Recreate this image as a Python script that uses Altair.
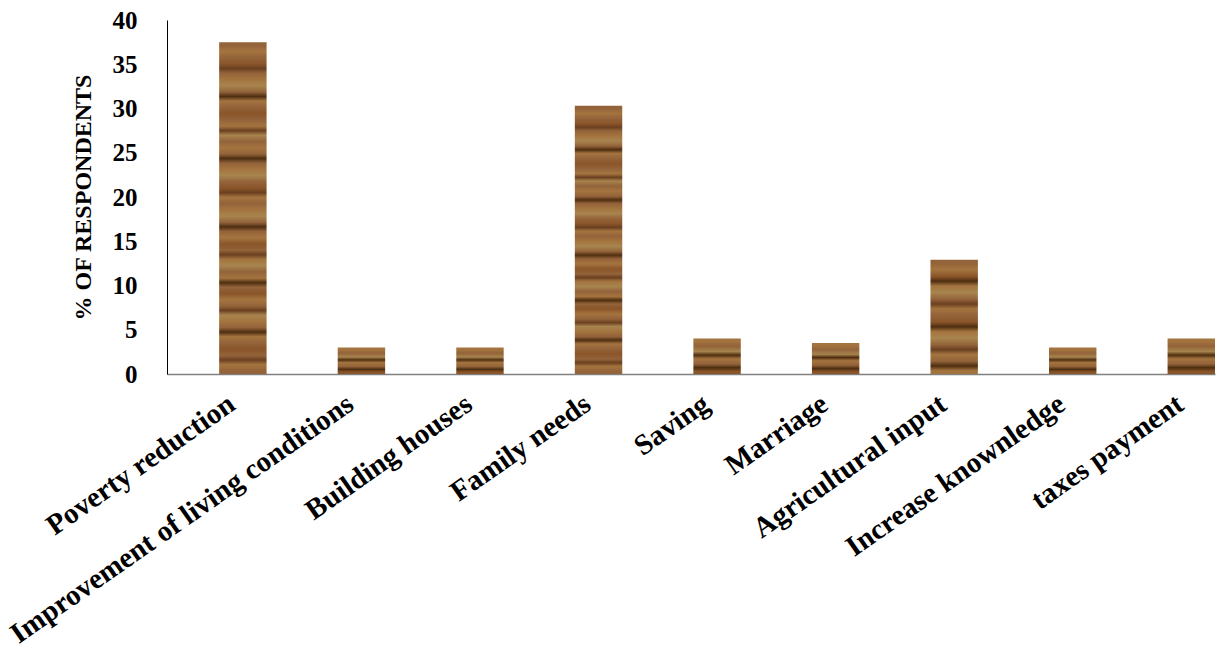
import altair as alt
import pandas as pd

# Reasons given for using the money, share of respondents (%)
categories = [
    "Poverty reduction",
    "Improvement  of living conditions",
    "Building houses",
    "Family needs",
    "Saving",
    "Marriage",
    "Agricultural input",
    "Increase knownledge",
    "taxes payment",
]
percent = [37.5, 3.0, 3.0, 30.3, 4.0, 3.5, 12.9, 3.0, 4.0]

df = pd.DataFrame({"reason": categories, "pct": percent})

FONT = "Liberation Serif"

# Wood-grain tones: light, mid, reddish, yellowish, dark, very dark
L, M, R, Y, D, K = "#a4743f", "#93633a", "#8a5529", "#a8844e", "#6a4020", "#4e2e10"

tall_tones = [M, L, M, R, D, M, L, Y, M, K, L, M, R, M, L, D, Y, M, L, M,
              K, M, L, Y, M, R, D, L, M, L, Y, M, K, M, L, R, M, D, L, Y,
              M, L, K, M, R, L, M, D, Y, L, M, K, L, M, R, M, D, L, M]
mid_tones = [M, L, R, K, L, Y, M, D, L, M, R, K, L, Y, M, D, L, M, K, L]
short_tones = [L, M, Y, K, L, M, K, R]


def grain(tones):
    # thin dark streaks between wider brown bands
    weights = [0.45 if c in (D, K) else 1.0 for c in tones]
    total = sum(weights)
    stops, acc = [], 0.0
    for c, w in zip(tones, weights):
        stops.append(alt.GradientStop(offset=round((acc + w / 2) / total, 4), color=c))
        acc += w
    return alt.Gradient(gradient="linear", stops=stops, x1=0, x2=0, y1=0, y2=1)


x_enc = alt.X(
    "reason:N",
    sort=categories,
    title=None,
    scale=alt.Scale(paddingInner=0.6, paddingOuter=0.22, align=1),
    axis=alt.Axis(
        labelAngle=-35,
        labelAlign="right",
        labelBaseline="top",
        labelPadding=15,
        labelOffset=-19,
        labelFont=FONT,
        labelFontSize=29,
        labelFontWeight="bold",
        labelColor="#000000",
        labelLimit=0,
        ticks=False,
        domainColor="#808080",
        domainWidth=1.5,
        grid=False,
    ),
)

y_enc = alt.Y(
    "pct:Q",
    title="% OF RESPONDENTS",
    scale=alt.Scale(domain=[0, 40], nice=False),
    axis=alt.Axis(
        values=[0, 5, 10, 15, 20, 25, 30, 35, 40],
        labelFont=FONT,
        labelFontSize=25,
        labelFontWeight="bold",
        labelColor="#000000",
        labelPadding=30,
        ticks=False,
        domainColor="#000000",
        domainWidth=1,
        grid=False,
        titleFont=FONT,
        titleFontSize=24,
        titleFontWeight="bold",
        titleColor="#000000",
        titlePadding=17,
    ),
)

base = alt.Chart(df).encode(x=x_enc, y=y_enc)

tall = base.transform_filter("datum.pct > 20").mark_bar(color=grain(tall_tones))
mid = base.transform_filter("datum.pct > 8 && datum.pct <= 20").mark_bar(color=grain(mid_tones))
short = base.transform_filter("datum.pct <= 8").mark_bar(color=grain(short_tones))

chart = (
    alt.layer(tall, mid, short)
    .properties(
        width=1048,
        height=354,
        padding={"left": 167, "top": 20, "right": 2, "bottom": 277},
        autosize=alt.AutoSizeParams(type="none"),
        background="#ffffff",
    )
    .configure_view(stroke=None)
)

chart.save("out.html", embed_options={"renderer": "svg", "actions": False})
